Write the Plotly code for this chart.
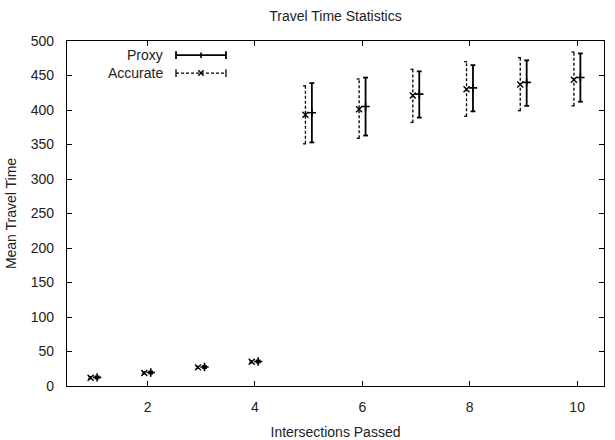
import plotly.graph_objects as go

# ---- data ----
intersections = [1, 2, 3, 4, 5, 6, 7, 8, 9, 10]
proxy_mean = [12.5, 19.5, 27.5, 35.5, 396, 405, 423, 432, 440, 447]
proxy_low = [11, 18, 26, 34, 353, 363, 389, 398, 406, 412]
proxy_high = [14, 21, 29, 37, 439, 447, 456, 465, 472, 482]
accurate_mean = [12, 19, 27, 35, 393, 401, 421, 430, 437, 444]
accurate_low = [10.5, 17.5, 25.5, 33.5, 351, 359, 382, 391, 399, 406]
accurate_high = [13.5, 20.5, 28.5, 36.5, 435, 445, 459, 470, 476, 484]

x_ticks = [2, 4, 6, 8, 10]
y_ticks = [0, 50, 100, 150, 200, 250, 300, 350, 400, 450, 500]

OFFSET = 0.06
CAP = 0.045
FONT = "Liberation Sans, Arial, sans-serif"
TXT = "#222222"
FS = 14


def bar_segments(xs, lo, hi, off, cap):
    X, Y = [], []
    for x, l, h in zip(xs, lo, hi):
        xc = x + off
        X += [xc, xc, None, xc - cap, xc + cap, None, xc - cap, xc + cap, None]
        Y += [l, h, None, l, l, None, h, h, None]
    return X, Y


fig = go.Figure()

ax, ay = bar_segments(intersections, accurate_low, accurate_high, -OFFSET, CAP)
fig.add_trace(go.Scatter(x=ax, y=ay, mode="lines", showlegend=False, hoverinfo="skip",
                         line=dict(color="black", width=1.3, dash="3px,2px")))
fig.add_trace(go.Scatter(x=[x - OFFSET for x in intersections], y=accurate_mean, mode="markers",
                         showlegend=False,
                         marker=dict(symbol="x-thin", size=6, color="black",
                                     line=dict(color="black", width=1.4))))

px_, py_ = bar_segments(intersections, proxy_low, proxy_high, OFFSET, CAP)
fig.add_trace(go.Scatter(x=px_, y=py_, mode="lines", showlegend=False, hoverinfo="skip",
                         line=dict(color="black", width=1.8)))
fig.add_trace(go.Scatter(x=[x + OFFSET for x in intersections], y=proxy_mean, mode="markers",
                         showlegend=False,
                         marker=dict(symbol="cross-thin", size=6, color="black",
                                     line=dict(color="black", width=1.6))))

# ---- custom legend (gnuplot style: text, then sample) ----
legend_items = [("Proxy", 0.959, "solid", 1.8, "cross-thin"),
                ("Accurate", 0.907, "3px,2px", 1.3, "x-thin")]
lx0, lx1, ltext = 0.203, 0.296, 0.1825
capy = 0.011
for name, yy, dash, w, sym in legend_items:
    fig.add_annotation(x=ltext, y=yy, xref="paper", yref="paper", text=name, showarrow=False,
                       xanchor="right", yanchor="middle",
                       font=dict(family=FONT, size=FS, color=TXT))
    fig.add_shape(type="line", xref="paper", yref="paper", x0=lx0, x1=lx1, y0=yy, y1=yy,
                  line=dict(color="black", width=w, dash=dash))
    for xe in (lx0, lx1):
        fig.add_shape(type="line", xref="paper", yref="paper", x0=xe, x1=xe,
                      y0=yy - capy, y1=yy + capy, line=dict(color="black", width=w))
    mx = (lx0 + lx1) / 2
    dx, dy = 0.005, 0.008
    if sym == "x-thin":
        fig.add_shape(type="line", xref="paper", yref="paper", x0=mx - dx, x1=mx + dx,
                      y0=yy - dy, y1=yy + dy, line=dict(color="black", width=1.4))
        fig.add_shape(type="line", xref="paper", yref="paper", x0=mx - dx, x1=mx + dx,
                      y0=yy + dy, y1=yy - dy, line=dict(color="black", width=1.4))
    else:
        fig.add_shape(type="line", xref="paper", yref="paper", x0=mx, x1=mx,
                      y0=yy - dy, y1=yy + dy, line=dict(color="black", width=1.6))

axis_common = dict(showline=True, linecolor="black", linewidth=1.3, mirror="ticks",
                   ticks="inside", ticklen=5, tickwidth=1, tickcolor="black",
                   showgrid=False, zeroline=False, automargin=False,
                   tickfont=dict(family=FONT, size=FS, color=TXT))

fig.update_layout(
    width=615, height=440,
    margin=dict(l=67, r=11, t=41, b=54),
    paper_bgcolor="white", plot_bgcolor="white",
    title=dict(text="Travel Time Statistics", x=0.5455, xanchor="center", y=0.963,
               yanchor="middle", font=dict(family=FONT, size=FS, color=TXT)),
    xaxis=dict(range=[0.5, 10.5], tickvals=x_ticks, ticklabelstandoff=8,
               title=dict(text="Intersections Passed", standoff=13,
                          font=dict(family=FONT, size=FS, color=TXT)),
               **axis_common),
    yaxis=dict(range=[0, 500], tickvals=y_ticks, ticklabelstandoff=9,
               title=dict(text="Mean Travel Time", standoff=10,
                          font=dict(family=FONT, size=FS, color=TXT)),
               **axis_common),
    showlegend=False,
)

fig.write_html("out.html")
